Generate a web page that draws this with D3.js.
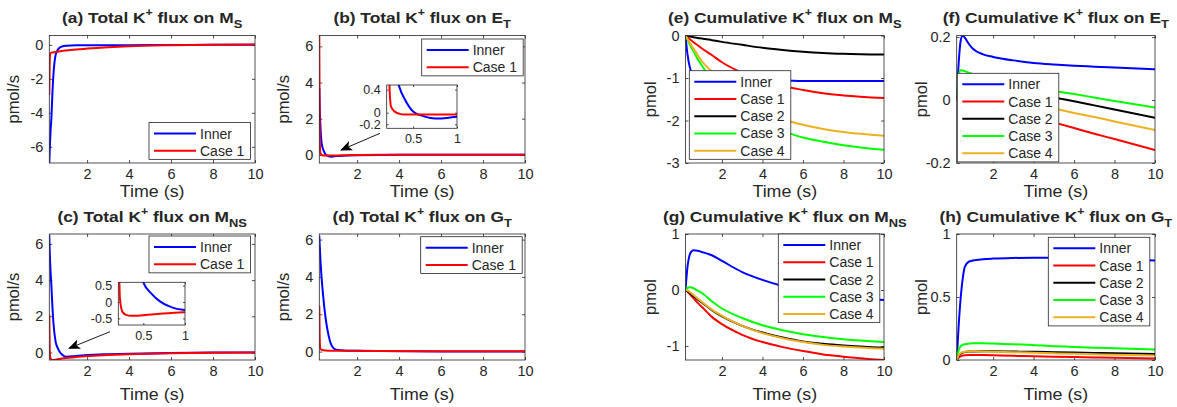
<!DOCTYPE html>
<html>
<head>
<meta charset="utf-8">
<script src="https://cdn.jsdelivr.net/npm/d3@7"></script>
<style>
body { margin: 0; background: #fff; }
text { font-family: "Liberation Sans", Arial, sans-serif; fill: #262626; }
</style>
</head>
<body>
<script>
// time grids (s)
var tFlux = [0.2, 0.22, 0.25, 0.3, 0.35, 0.4, 0.5, 0.6, 0.7, 0.8, 1, 1.5, 2, 3, 4, 6, 8, 10];
var tCum = [0.2, 0.3, 0.4, 0.5, 0.6, 0.8, 1, 1.5, 2, 3, 4, 5, 6, 7, 8, 10];

// total flux (pmol/s)
var fluxMsInner = [-6.95, -6.2, -5.3, -4.3, -2.8, -1.7, -0.6, -0.3, -0.16, -0.1, -0.05, -0.03, -0.03, -0.02, -0.02, -0.01, 0, 0];
var fluxMsCase1 = [-2.95, -0.9, -0.5, -0.46, -0.45, -0.44, -0.42, -0.4, -0.38, -0.36, -0.33, -0.27, -0.22, -0.14, -0.08, -0.02, 0.01, 0.02];
var fluxEtInner = [3.7, 2.6, 1.7, 0.75, 0.42, 0.25, 0.02, -0.05, -0.09, -0.1, -0.07, -0.04, -0.02, -0.01, 0, 0, 0, 0];
var fluxEtCase1 = [6.6, 1.0, 0.1, 0.01, -0.02, -0.03, -0.03, -0.03, -0.03, -0.03, -0.03, -0.02, -0.01, 0, 0, 0, 0, 0];
var fluxMnsInner = [6.5, 5.6, 4.7, 3.7, 2.5, 1.6, 0.6, 0.25, 0.02, -0.12, -0.24, -0.2, -0.15, -0.1, -0.07, -0.03, -0.01, 0];
var fluxMnsCase1 = [2.1, 0.1, -0.3, -0.4, -0.42, -0.42, -0.4, -0.38, -0.36, -0.34, -0.31, -0.26, -0.2, -0.14, -0.1, -0.05, -0.02, 0];
var fluxGtInner = [6.2, 5.7, 5.0, 4.1, 3.4, 2.8, 1.8, 1.1, 0.6, 0.3, 0.1, 0.05, 0.04, 0.03, 0.02, 0.01, 0.01, 0.01];
var fluxGtCase1 = [2.45, 0.6, 0.15, 0.1, 0.08, 0.07, 0.06, 0.05, 0.05, 0.05, 0.05, 0.04, 0.04, 0.03, 0.03, 0.02, 0.02, 0.02];

// cumulative flux (pmol)
var cumMsInner = [0, -0.45, -0.72, -0.88, -0.96, -1.02, -1.04, -1.05, -1.05, -1.06, -1.06, -1.06, -1.07, -1.07, -1.07, -1.07];
var cumMsCase1 = [0, -0.04, -0.08, -0.12, -0.16, -0.23, -0.3, -0.46, -0.63, -0.88, -1.06, -1.19, -1.28, -1.36, -1.41, -1.47];
var cumMsCase2 = [0, -0.01, -0.02, -0.03, -0.04, -0.06, -0.07, -0.11, -0.15, -0.22, -0.29, -0.34, -0.38, -0.41, -0.43, -0.45];
var cumMsCase3 = [0, -0.1, -0.2, -0.29, -0.38, -0.55, -0.7, -1.05, -1.35, -1.8, -2.08, -2.25, -2.4, -2.5, -2.58, -2.69];
var cumMsCase4 = [0, -0.08, -0.16, -0.24, -0.31, -0.46, -0.6, -0.85, -1.1, -1.5, -1.78, -1.97, -2.1, -2.2, -2.27, -2.36];

var cumEtInner = [0, 0.12, 0.19, 0.205, 0.198, 0.178, 0.163, 0.145, 0.137, 0.126, 0.118, 0.113, 0.109, 0.106, 0.103, 0.098];
var cumEtCase1 = [0, 0.005, 0.008, 0.008, 0.007, 0.004, 0, -0.008, -0.017, -0.035, -0.053, -0.071, -0.089, -0.107, -0.124, -0.159];
var cumEtCase2 = [0, 0.04, 0.055, 0.06, 0.06, 0.059, 0.057, 0.05, 0.043, 0.03, 0.018, 0.008, -0.004, -0.017, -0.03, -0.056];
var cumEtCase3 = [0, 0.08, 0.095, 0.094, 0.092, 0.087, 0.082, 0.074, 0.066, 0.052, 0.04, 0.029, 0.019, 0.008, -0.003, -0.024];
var cumEtCase4 = [0, 0.02, 0.03, 0.032, 0.032, 0.03, 0.027, 0.02, 0.013, 0, -0.013, -0.027, -0.041, -0.054, -0.068, -0.095];

var cumMnsInner = [0, 0.42, 0.62, 0.69, 0.71, 0.7, 0.68, 0.62, 0.52, 0.32, 0.18, 0.07, -0.01, -0.07, -0.12, -0.18];
var cumMnsCase1 = [0, -0.03, -0.07, -0.11, -0.15, -0.23, -0.3, -0.48, -0.61, -0.8, -0.93, -1.02, -1.09, -1.15, -1.19, -1.25];
var cumMnsCase2 = [0, -0.02, -0.05, -0.08, -0.11, -0.17, -0.22, -0.36, -0.47, -0.64, -0.76, -0.85, -0.92, -0.96, -0.99, -1.03];
var cumMnsCase3 = [0, 0.04, 0.05, 0.045, 0.03, -0.01, -0.05, -0.2, -0.33, -0.5, -0.63, -0.72, -0.79, -0.84, -0.88, -0.93];
var cumMnsCase4 = [0, -0.01, -0.03, -0.06, -0.09, -0.15, -0.21, -0.35, -0.46, -0.64, -0.77, -0.86, -0.93, -0.98, -1.01, -1.05];

var cumGtInner = [0, 0.28, 0.5, 0.65, 0.74, 0.78, 0.79, 0.8, 0.805, 0.81, 0.812, 0.812, 0.81, 0.805, 0.8, 0.79];
var cumGtCase1 = [0, 0.02, 0.03, 0.035, 0.038, 0.04, 0.04, 0.039, 0.037, 0.033, 0.03, 0.026, 0.023, 0.02, 0.017, 0.012];
var cumGtCase2 = [0, 0.035, 0.05, 0.058, 0.063, 0.067, 0.068, 0.069, 0.069, 0.067, 0.065, 0.062, 0.059, 0.056, 0.053, 0.048];
var cumGtCase3 = [0, 0.08, 0.11, 0.12, 0.125, 0.13, 0.133, 0.133, 0.13, 0.125, 0.118, 0.11, 0.104, 0.098, 0.093, 0.083];
var cumGtCase4 = [0, 0.04, 0.055, 0.062, 0.066, 0.068, 0.069, 0.068, 0.066, 0.062, 0.058, 0.053, 0.049, 0.045, 0.041, 0.035];

var seriesNames = ["Inner", "Case 1", "Case 2", "Case 3", "Case 4"];
var seriesColors = ["#0000ff", "#ff0000", "#000000", "#00ff00", "#edb120"];
var xTicks = [2, 4, 6, 8, 10];

// layout
var col = [[49.3, 255], [319.3, 525], [685.5, 884], [956.7, 1155]];
var row = [{ top: 35.5, bottom: 163, title: 22.5, xlab: 197 }, { top: 234, bottom: 360, title: 221.5, xlab: 400 }];

var panels = [
	{ id: "a", c: 0, r: 0, pre: "(a) Total K", post: " flux on M", sub: "S", ylab: "pmol/s", t: tFlux, ys: [fluxMsInner, fluxMsCase1], ydom: [-6.95, 0.55], yticks: [-6, -4, -2, 0], leg: [149, 122.5] },
	{ id: "b", c: 1, r: 0, pre: "(b) Total K", post: " flux on E", sub: "T", ylab: "pmol/s", t: tFlux, ys: [fluxEtInner, fluxEtCase1], ydom: [-0.45, 6.6], yticks: [0, 2, 4, 6], leg: [421.7, 39],
		inset: { x: [386.7, 457], y: [85, 128.3], xdom: [0.2, 1], ydom: [-0.27, 0.48], xticks: [0.5, 1], yticks: [-0.2, 0, 0.4] }, arrow: [380, 133.3, 341, 150] },
	{ id: "c", c: 0, r: 1, pre: "(c) Total K", post: " flux on M", sub: "NS", ylab: "pmol/s", t: tFlux, ys: [fluxMnsInner, fluxMnsCase1], ydom: [-0.42, 6.55], yticks: [0, 2, 4, 6], leg: [149, 236],
		inset: { x: [118.3, 185], y: [282.3, 325], xdom: [0.2, 1], ydom: [-0.7, 0.6], xticks: [0.5, 1], yticks: [-0.5, 0, 0.5] }, arrow: [110, 331.7, 69, 348.3] },
	{ id: "d", c: 1, r: 1, pre: "(d) Total K", post: " flux on G", sub: "T", ylab: "pmol/s", t: tFlux, ys: [fluxGtInner, fluxGtCase1], ydom: [-0.45, 6.3], yticks: [0, 2, 4, 6], leg: [420.7, 236.7] },
	{ id: "e", c: 2, r: 0, pre: "(e) Cumulative K", post: " flux on M", sub: "S", ylab: "pmol", t: tCum, ys: [cumMsInner, cumMsCase1, cumMsCase2, cumMsCase3, cumMsCase4], ydom: [-3, 0], yticks: [-3, -2, -1, 0], leg: [689.3, 70.7] },
	{ id: "f", c: 3, r: 0, pre: "(f) Cumulative K", post: " flux on E", sub: "T", ylab: "pmol", t: tCum, ys: [cumEtInner, cumEtCase1, cumEtCase2, cumEtCase3, cumEtCase4], ydom: [-0.2, 0.205], yticks: [-0.2, 0, 0.2], leg: [957.3, 73.3] },
	{ id: "g", c: 2, r: 1, pre: "(g) Cumulative K", post: " flux on M", sub: "NS", ylab: "pmol", t: tCum, ys: [cumMnsInner, cumMnsCase1, cumMnsCase2, cumMnsCase3, cumMnsCase4], ydom: [-1.25, 1], yticks: [-1, 0, 1], leg: [778.3, 234] },
	{ id: "h", c: 3, r: 1, pre: "(h) Cumulative K", post: " flux on G", sub: "T", ylab: "pmol", t: tCum, ys: [cumGtInner, cumGtCase1, cumGtCase2, cumGtCase3, cumGtCase4], ydom: [0, 1], yticks: [0, 0.5, 1], leg: [1048.3, 237.3] }
];

var svg = d3.select("body").append("svg").attr("width", 1177).attr("height", 407);
var defs = svg.append("defs");
defs.append("marker").attr("id", "arr").attr("viewBox", "0 0 12 10").attr("refX", 11).attr("refY", 5)
	.attr("markerWidth", 12).attr("markerHeight", 10).attr("markerUnits", "userSpaceOnUse").attr("orient", "auto")
	.append("path").attr("d", "M0,0 L12,5 L0,10 L3,5 Z").attr("fill", "#000");

function drawAxes(g, x, y, xt, yt, fs, clipId, tlen) {
	var x0 = x.range()[0], x1 = x.range()[1], y0 = y.range()[0], y1 = y.range()[1];
	g.append("rect").attr("x", x0).attr("y", y1).attr("width", x1 - x0).attr("height", y0 - y1)
		.attr("fill", "#fff");
	defs.append("clipPath").attr("id", clipId).append("rect")
		.attr("x", x0).attr("y", y1).attr("width", x1 - x0).attr("height", y0 - y1);
	var bx = g.append("g").attr("transform", "translate(0," + y0 + ")")
		.call(d3.axisBottom(x).tickValues(xt).tickSize(-tlen).tickPadding(6).tickFormat(d3.format("")));
	var tx = g.append("g").attr("transform", "translate(0," + y1 + ")")
		.call(d3.axisTop(x).tickValues(xt).tickSize(-tlen).tickFormat(""));
	var ly = g.append("g").attr("transform", "translate(" + x0 + ",0)")
		.call(d3.axisLeft(y).tickValues(yt).tickSize(-tlen).tickPadding(6).tickFormat(function (d) { return String(d); }));
	var ry = g.append("g").attr("transform", "translate(" + x1 + ",0)")
		.call(d3.axisRight(y).tickValues(yt).tickSize(-tlen).tickFormat(""));
	[bx, tx, ly, ry].forEach(function (a) {
		a.select(".domain").remove();
		a.selectAll("line").attr("stroke", "#262626").attr("stroke-width", 0.8);
		a.selectAll("text").attr("font-size", fs).attr("fill", "#262626").attr("font-family", null);
	});
	bx.selectAll("text").attr("dy", "0.71em");
}

function frame(g, x, y) {
	g.append("rect").attr("x", x.range()[0]).attr("y", y.range()[1])
		.attr("width", x.range()[1] - x.range()[0]).attr("height", y.range()[0] - y.range()[1])
		.attr("fill", "none").attr("stroke", "#262626").attr("stroke-width", 0.8);
}

function drawLines(g, p, x, y, clipId) {
	var line = d3.line().x(function (d) { return x(d[0]); }).y(function (d) { return y(d[1]); })
		.curve(d3.curveMonotoneX);
	var lg = g.append("g").attr("clip-path", "url(#" + clipId + ")");
	p.ys.forEach(function (vals, i) {
		lg.append("path").datum(p.t.map(function (tv, j) { return [tv, vals[j]]; }))
			.attr("d", line).attr("fill", "none").attr("stroke", seriesColors[i])
			.attr("stroke-width", 2).attr("stroke-linejoin", "round");
	});
}

panels.forEach(function (p) {
	var R = row[p.r], C = col[p.c];
	var g = svg.append("g");
	var x = d3.scaleLinear().domain([0.2, 10]).range([C[0], C[1]]);
	var y = d3.scaleLinear().domain(p.ydom).range([R.bottom, R.top]);
	drawAxes(g, x, y, xTicks, p.yticks, "14.5px", "clip" + p.id, 3);
	drawLines(g, p, x, y, "clip" + p.id);
	frame(g, x, y);

	// title, a little wider than the plain font
	var tt = g.append("text").attr("transform", "translate(" + ((C[0] + C[1]) / 2) + "," + R.title + ") scale(1.12,1)")
		.attr("text-anchor", "middle").attr("font-weight", "bold").attr("font-size", "15.5px").attr("fill", "#000");
	tt.append("tspan").text(p.pre);
	tt.append("tspan").attr("font-size", "11px").attr("dy", -7).text("+");
	tt.append("tspan").attr("dy", 7).text(p.post);
	tt.append("tspan").attr("font-size", "11.5px").attr("dy", 5).text(p.sub);

	// axis labels
	g.append("text").attr("transform", "translate(" + ((C[0] + C[1]) / 2) + "," + R.xlab + ") scale(1.08,1)")
		.attr("text-anchor", "middle").attr("font-size", "16.5px").text("Time (s)");
	g.append("text").attr("transform", "translate(" + (C[0] - 30) + "," + ((R.top + R.bottom) / 2) + ") rotate(-90)")
		.attr("text-anchor", "middle").attr("font-size", "16.5px").text(p.ylab);

	// inset
	if (p.inset) {
		var q = p.inset;
		var ix = d3.scaleLinear().domain(q.xdom).range(q.x);
		var iy = d3.scaleLinear().domain(q.ydom).range([q.y[1], q.y[0]]);
		drawAxes(g, ix, iy, q.xticks, q.yticks, "12.5px", "clipi" + p.id, 2);
		drawLines(g, p, ix, iy, "clipi" + p.id);
		frame(g, ix, iy);
		g.append("line").attr("x1", p.arrow[0]).attr("y1", p.arrow[1]).attr("x2", p.arrow[2]).attr("y2", p.arrow[3])
			.attr("stroke", "#000").attr("stroke-width", 0.9).attr("marker-end", "url(#arr)");
	}

	// legend
	var n = p.ys.length, lx = p.leg[0], ly = p.leg[1], rh = 17.25;
	var lgd = g.append("g");
	lgd.append("rect").attr("x", lx).attr("y", ly).attr("width", 101.5).attr("height", 11 + (n - 1) * rh + 8.6)
		.attr("fill", "#fff").attr("stroke", "#262626").attr("stroke-width", 0.8);
	for (var i = 0; i < n; i++) {
		var yy = ly + 11 + i * rh;
		lgd.append("line").attr("x1", lx + 5).attr("x2", lx + 47).attr("y1", yy).attr("y2", yy)
			.attr("stroke", seriesColors[i]).attr("stroke-width", 2);
		lgd.append("text").attr("x", lx + 51).attr("y", yy + 5).attr("font-size", "14px").attr("fill", "#000")
			.text(seriesNames[i]);
	}
});
</script>
</body>
</html>
